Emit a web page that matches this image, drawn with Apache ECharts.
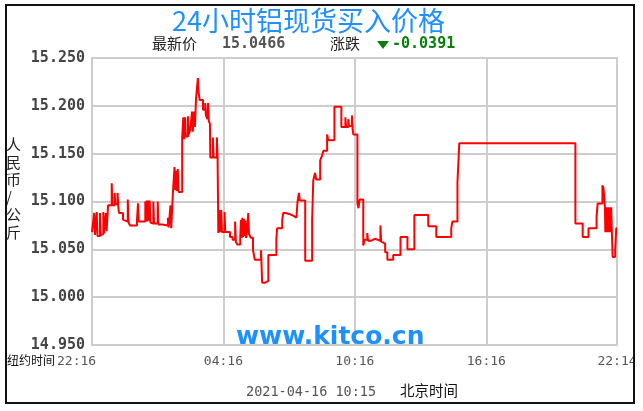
<!DOCTYPE html>
<html><head><meta charset="utf-8">
<script src="https://cdn.jsdelivr.net/npm/echarts@6/dist/echarts.min.js"></script>
<style>html,body{margin:0;padding:0;background:#fff}#c{width:643px;height:411px}</style>
</head><body><div id="c"></div>
<script>
// minutes elapsed since 22:16 (New York time)
const minutesSince2216 = [0,5,6,8,13,15,22,24,28,31,33,38,40,44,54,56,62,64,70,72,74,85,90,98,100,104,123,126,128,146,148,150,152,154,156,158,160,165,168,170,180,182,192,208,210,215,217,220,222,226,228,230,232,235,237,247,250,252,255,257,263,265,269,274,276,280,282,285,290,292,295,304,310,312,316,318,320,323,324,331,333,342,344,346,348,350,354,356,363,365,378,385,392,394,398,406,408,410,412,414,416,418,420,422,424,428,430,435,441,446,463,466,473,483,505,507,521,524,530,540,552,560,563,567,569,584,603,606,611,614,625,630,634,644,647,664,683,694,696,702,704,712,714,716,727,730,733,743,747,754,756,765,775,790,792,795,803,809,825,845,864,883,921,943,984,987,1001,1006,1324,1344,1360,1382,1385,1398,1401,1405,1406,1407,1408,1409,1410,1411,1412,1413,1414,1415,1416,1417,1418,1419,1421,1422,1424,1426,1433,1436,1438];
const prices = [15.068,15.066,15.088,15.065,15.089,15.064,15.088,15.065,15.066,15.089,15.067,15.088,15.069,15.096,15.119,15.096,15.109,15.097,15.109,15.095,15.088,15.081,15.079,15.102,15.078,15.075,15.079,15.098,15.079,15.100,15.079,15.101,15.079,15.101,15.080,15.101,15.078,15.077,15.100,15.077,15.100,15.076,15.075,15.083,15.073,15.096,15.072,15.071,15.112,15.136,15.112,15.132,15.111,15.134,15.110,15.166,15.188,15.165,15.188,15.168,15.189,15.170,15.175,15.194,15.173,15.194,15.178,15.208,15.229,15.214,15.206,15.196,15.203,15.190,15.186,15.203,15.184,15.181,15.146,15.167,15.146,15.167,15.146,15.067,15.091,15.068,15.091,15.068,15.089,15.068,15.063,15.060,15.079,15.058,15.055,15.062,15.081,15.062,15.083,15.063,15.082,15.064,15.080,15.062,15.066,15.088,15.066,15.062,15.049,15.039,15.049,15.015,15.017,15.044,15.061,15.072,15.081,15.088,15.087,15.085,15.083,15.081,15.100,15.109,15.101,15.038,15.081,15.122,15.130,15.123,15.143,15.148,15.153,15.170,15.164,15.199,15.178,15.188,15.178,15.186,15.179,15.190,15.175,15.170,15.098,15.093,15.102,15.054,15.060,15.067,15.059,15.061,15.059,15.075,15.058,15.056,15.047,15.039,15.044,15.063,15.050,15.086,15.074,15.063,15.072,15.079,15.120,15.161,15.077,15.063,15.072,15.084,15.098,15.117,15.114,15.094,15.068,15.093,15.070,15.094,15.068,15.094,15.068,15.093,15.070,15.094,15.068,15.093,15.069,15.094,15.068,15.094,15.068,15.042,15.049,15.072,15.072];
const yTicks = [14.950, 15.000, 15.050, 15.100, 15.150, 15.200, 15.250];
const title = '24小时铝现货买入价格';
const latestLabel = '最新价', latestValue = '15.0466';
const changeLabel = '涨跌', changeValue = '-0.0391';
const dateText = '2021-04-16 10:15', bjLabel = '北京时间';
const nyLabel = '纽约时间', startClock = '22:16';
const yName = '人民币/公斤';
const watermark = 'www.kitco.cn';

const startMin = 22 * 60 + 16;
function clock(m) {
  const t = ((startMin + Math.round(m)) % 1440 + 1440) % 1440;
  const h = Math.floor(t / 60), mm = t % 60;
  return String(h).padStart(2, '0') + ':' + String(mm).padStart(2, '0');
}

const chart = echarts.init(document.getElementById('c'), null, {renderer: 'canvas'});
const blue = '#1e90ff', green = '#087f08';
chart.setOption({
  animation: false,
  backgroundColor: '#fff',
  grid: {left: 92, right: 26, top: 58, bottom: 66, show: true, borderColor: '#cdcdcd', borderWidth: 2},
  xAxis: {
    type: 'value', min: 0, max: 1438, interval: 360,
    axisLine: {show: false}, axisTick: {show: false},
    splitLine: {show: true, lineStyle: {color: '#cdcdcd', width: 2}},
    axisLabel: {showMinLabel: false, showMaxLabel: true, margin: 10, color: '#555', fontFamily: 'DejaVu Sans Mono', fontSize: 13,
      formatter: v => clock(v)}
  },
  yAxis: {
    type: 'value', min: yTicks[0], max: yTicks[yTicks.length - 1], interval: 0.05,
    axisLine: {show: false}, axisTick: {show: false},
    splitLine: {show: true, lineStyle: {color: '#cdcdcd', width: 2}},
    axisLabel: {margin: 7, color: '#444', fontFamily: 'DejaVu Sans Mono', fontWeight: 'bold', fontSize: 15,
      formatter: v => Number(v).toFixed(3)}
  },
  series: [{
    type: 'line', step: 'end', showSymbol: false, symbol: 'none',
    lineStyle: {color: '#ff0000', width: 2},
    data: minutesSince2216.map((t, i) => [t, prices[i]]),
    z: 3
  }],
  graphic: [
    {type: 'text', left: 172, top: 7, z: 10, style: {text: title, fill: blue, font: '27px "Noto Sans CJK SC"'}},
    {type: 'text', left: 152, top: 36, z: 10, style: {text: latestLabel, fill: '#222', font: '15px "Noto Sans CJK SC"'}},
    {type: 'text', left: 222, top: 37, z: 10, style: {text: latestValue, fill: '#555', font: 'bold 15px "DejaVu Sans Mono"'}},
    {type: 'text', left: 330, top: 36, z: 10, style: {text: changeLabel, fill: '#222', font: '15px "Noto Sans CJK SC"'}},
    {type: 'polygon', z: 10, shape: {points: [[377, 41], [389, 41], [383, 49]]}, style: {fill: green}},
    {type: 'text', left: 392, top: 37, z: 10, style: {text: changeValue, fill: green, font: 'bold 15px "DejaVu Sans Mono"'}},
    {type: 'text', left: 6, top: 136, z: 10, style: {text: yName.split('').join('\n'), fill: '#222', font: '15px "Noto Sans CJK SC"', lineHeight: 17.5, align: 'center', width: 16}},
    {type: 'text', left: 7, top: 354, z: 10, style: {text: nyLabel, fill: '#111', font: '12px "Noto Sans CJK SC"'}},
    {type: 'text', left: 57, top: 355, z: 10, style: {text: startClock, fill: '#555', font: '13px "DejaVu Sans Mono"'}},
    {type: 'text', left: 246, top: 385, z: 10, style: {text: dateText, fill: '#555', font: '13.5px "DejaVu Sans Mono"'}},
    {type: 'text', left: 400, top: 383, z: 10, style: {text: bjLabel, fill: '#111', font: '14.5px "Noto Sans CJK SC"'}},
    {type: 'text', left: 236, top: 325, z: 5, style: {text: watermark, fill: blue, font: 'bold 25px "DejaVu Sans"'}},
    {type: 'rect', z: 20, shape: {x: 635, y: 0, width: 10, height: 411}, style: {fill: '#fff'}},
    {type: 'rect', z: 21, shape: {x: 6, y: 5, width: 628, height: 398}, style: {fill: 'none', stroke: '#111', lineWidth: 2}}
  ]
});
</script></body></html>
